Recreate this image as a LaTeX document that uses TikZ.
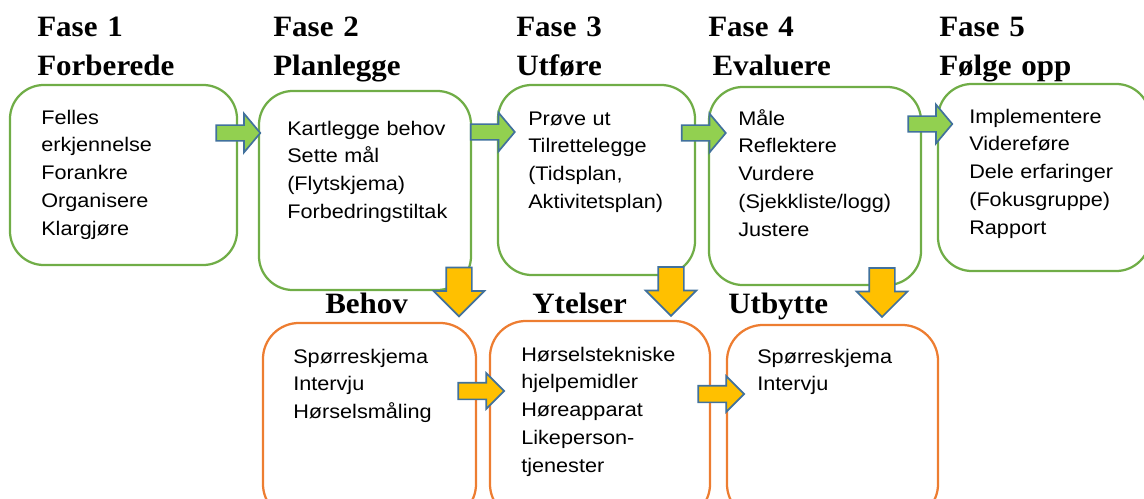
\documentclass[tikz,border=0pt]{standalone}
\usepackage{fontspec}
\setmainfont{Liberation Sans}[FakeStretch=1.1]
\newfontfamily\headfont{Liberation Serif}[FakeStretch=1.05]
\usetikzlibrary{shapes.arrows}
\definecolor{phgreen}{HTML}{70AD47}
\definecolor{phorange}{HTML}{ED7D31}
\definecolor{argreen}{HTML}{92D050}
\definecolor{aryellow}{HTML}{FFC000}
\definecolor{arblue}{HTML}{41719C}

\begin{document}
\begin{tikzpicture}[x=0.025cm, y=-0.025cm,
    phase/.style={draw=phgreen, line width=1.6pt, rounded corners=0.85cm, inner sep=0pt},
    result/.style={draw=phorange, line width=1.6pt, rounded corners=0.9cm, inner sep=0pt},
    head/.style={anchor=base west, inner sep=0pt, align=left, text width=5cm,
        font=\headfont\bfseries\fontsize{21}{27.7}\selectfont},
    items/.style={anchor=base west, inner sep=0pt, align=left, text width=5cm,
        font=\fontsize{14}{19.9}\selectfont},
    garrow/.style={single arrow, draw=arblue, fill=argreen, line width=1.2pt,
        inner xsep=0pt, inner ysep=0.175cm, minimum height=1.1cm,
        single arrow head extend=0.2875cm, single arrow tip angle=100},
    ydown/.style={single arrow, draw=arblue, fill=aryellow, line width=1.2pt,
        inner xsep=0.3cm, inner ysep=0pt, minimum height=1.225cm,
        single arrow head extend=0.3125cm, single arrow tip angle=90, shape border rotate=270},
    yright/.style={single arrow, draw=arblue, fill=aryellow, line width=1.2pt,
        inner xsep=0pt, inner ysep=0.1875cm, minimum height=1.15cm,
        single arrow head extend=0.2375cm, single arrow tip angle=90}]
    \useasboundingbox (0,0) rectangle (1144,499);

    % headings
    \node(h1) [head] at (37,37)  {Fase 1\\Forberede};
    \node(h2) [head] at (273,37) {Fase 2\\Planlegge};
    \node(h3) [head] at (516,37) {Fase 3\\Utføre};
    \node(h4) [head] at (708,37) {Fase 4\\\hspace*{3pt}Evaluere};
    \node(h5) [head] at (939,37) {Fase 5\\Følge opp};

    \node(hb) [head] at (325,313) {Behov};
    \node(hy) [head] at (532,313) {Ytelser};
    \node(hu) [head] at (728,313) {Utbytte};

    % phase boxes
    \node(f1) [phase, minimum width=5.675cm, minimum height=4.5cm]   at (123.5,175) {};
    \node(f2) [phase, minimum width=5.3cm,   minimum height=4.975cm] at (365,190.5) {};
    \node(f3) [phase, minimum width=4.925cm, minimum height=4.75cm]  at (596.5,180) {};
    \node(f4) [phase, minimum width=5.3cm,   minimum height=4.95cm]  at (815,186) {};
    \node(f5) [phase, minimum width=5.3cm,   minimum height=4.675cm] at (1044,177.5) {};

    % result boxes
    \node(u1) [result, minimum width=5.325cm, minimum height=4.925cm] at (369.5,421.5) {};
    \node(u2) [result, minimum width=5.5cm,   minimum height=4.975cm] at (600,420.5) {};
    \node(u3) [result, minimum width=5.275cm, minimum height=4.875cm] at (832.5,422.5) {};

    % box texts
    \node(t1) [items] at (41,124)  {Felles\\erkjennelse\\Forankre\\Organisere\\Klargjøre};
    \node(t2) [items] at (287,135) {Kartlegge behov\\Sette mål\\(Flytskjema)\\Forbedringstiltak};
    \node(t3) [items] at (528,125) {Prøve ut\\Tilrettelegge\\(Tidsplan,\\Aktivitetsplan)};
    \node(t4) [items] at (738,125) {Måle\\Reflektere\\Vurdere\\(Sjekkliste/logg)\\Justere};
    \node(t5) [items] at (969,123) {Implementere\\Videreføre\\Dele erfaringer\\(Fokusgruppe)\\Rapport};

    \node(s1) [items] at (293,363) {Spørreskjema\\Intervju\\Hørselsmåling};
    \node(s2) [items] at (521,361) {Hørselstekniske\\hjelpemidler\\Høreapparat\\Likeperson-\\tjenester};
    \node(s3) [items] at (757,363) {Spørreskjema\\Intervju};

    %%%%% block arrows %%%%%
    \node(a12) [garrow] at (235,133)   {};
    \node(a23) [garrow] at (489.5,132) {};
    \node(a34) [garrow] at (700.5,133) {};
    \node(a45) [garrow] at (927,124)   {};

    \node(d2) [ydown] at (459,285.5) {};
    \node(d3) [ydown] at (671,285)   {};
    \node(d4) [ydown] at (882,286)   {};

    \node(r12) [yright] at (477,391) {};
    \node(r23) [yright] at (717,394) {};

\end{tikzpicture}
\end{document}
